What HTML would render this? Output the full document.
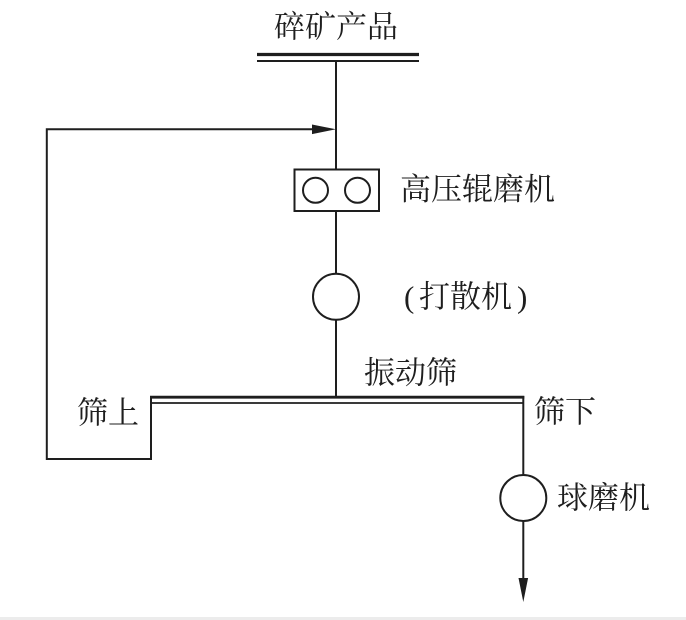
<!DOCTYPE html>
<html>
<head>
<meta charset="utf-8">
<style>
  html, body { margin: 0; padding: 0; background: #fff; }
  body { width: 686px; height: 620px; overflow: hidden; position: relative; }
  svg { display: block; }
  text { font-family: "Liberation Serif", "Noto Serif CJK SC", serif; font-size: 31px; fill: #1e1e1e; dominant-baseline: central; }
</style>
</head>
<body>
<svg width="686" height="620" viewBox="0 0 686 620" xmlns="http://www.w3.org/2000/svg">
  <!-- bottom gray band -->
  <rect x="0" y="617" width="686" height="3" fill="#ececec"/>

  <g stroke="#1e1e1e" fill="none">
    <!-- top double bar -->
    <line x1="257" y1="54.5" x2="419" y2="54.5" stroke-width="3.2"/>
    <line x1="257" y1="61" x2="419" y2="61" stroke-width="2"/>
    <!-- main vertical -->
    <line x1="336" y1="61" x2="336" y2="169.5" stroke-width="2"/>
    <line x1="336" y1="211" x2="336" y2="273.5" stroke-width="2"/>
    <line x1="336" y1="320" x2="336" y2="397" stroke-width="2"/>
    <!-- HPGR box -->
    <rect x="294.5" y="169.5" width="84.5" height="41.5" stroke-width="2"/>
    <circle cx="315.5" cy="190.3" r="12.5" stroke-width="2"/>
    <circle cx="357.5" cy="190.3" r="12.5" stroke-width="2"/>
    <!-- disperser circle -->
    <circle cx="336" cy="296.8" r="23" stroke-width="2"/>
    <!-- recycle loop -->
    <polyline points="318,129.3 46.8,129.3 46.8,459 151,459 151,397" stroke-width="2"/>
    <!-- screen double line -->
    <line x1="150" y1="397.2" x2="524.3" y2="397.2" stroke-width="2.8"/>
    <line x1="151" y1="403" x2="523" y2="403" stroke-width="1.8"/>
    <!-- undersize vertical -->
    <line x1="523.3" y1="396" x2="523.3" y2="475" stroke-width="2"/>
    <circle cx="523.3" cy="498" r="23" stroke-width="2"/>
    <line x1="523.3" y1="521" x2="523.3" y2="585" stroke-width="2"/>
  </g>

  <!-- arrowheads -->
  <polygon points="336,129.3 312,124.5 312,134.1" fill="#1e1e1e"/>
  <polygon points="523.3,602 518.5,578 528.1,578" fill="#1e1e1e"/>

  <!-- labels -->
  <text x="274" y="27">碎矿产品</text>
  <text x="400" y="189.5">高压辊磨机</text>
  <text x="404" y="297">(</text>
  <text x="419" y="297">打散机</text>
  <text x="517" y="297">)</text>
  <text x="364" y="373">振动筛</text>
  <text x="77" y="413">筛上</text>
  <text x="534" y="412">筛下</text>
  <text x="557" y="498">球磨机</text>
</svg>
</body>
</html>
